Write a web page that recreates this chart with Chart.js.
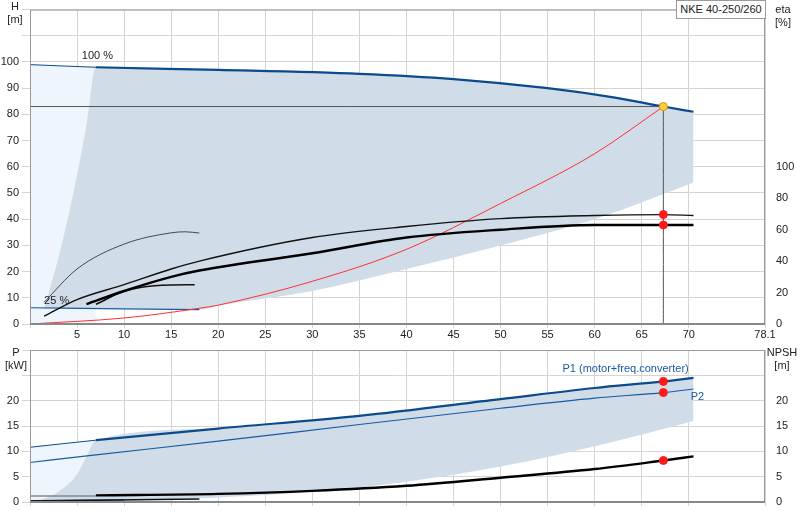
<!DOCTYPE html>
<html><head><meta charset="utf-8">
<script src="https://cdn.jsdelivr.net/npm/chart.js@4/dist/chart.umd.min.js"></script>
<style>
body{margin:0;background:#fff;font-family:"Liberation Sans",Arial,sans-serif;}
#w{position:relative;width:800px;height:520px;}
#c1{position:absolute;left:0;top:0;}
#c2{position:absolute;left:0;top:340px;}
.t{position:absolute;font-size:11px;color:#222;text-align:center;line-height:13px;}
</style></head><body>
<div id="w">
<canvas id="c1" width="800" height="340"></canvas>
<canvas id="c2" width="800" height="180"></canvas>
<div class="t" style="left:4px;top:0px;width:22px">H<br>[m]</div>
<div class="t" style="left:768px;top:3px;width:30px">eta<br>[%]</div>
<div class="t" style="left:4px;top:346px;width:24px">P<br>[kW]</div>
<div class="t" style="left:764px;top:346px;width:36px">NPSH<br>[m]</div>
<div class="t" style="left:676px;top:0px;width:88px;height:17px;line-height:17px;border:1px solid #999;background:#fff">NKE 40-250/260</div>
</div>
<script>
// ---- top chart data (Q in m3/h) ----
const qH100 = [0, 7, 20, 35, 45, 55, 62, 67.3, 70.5];
const hH100 = [99, 98, 97, 95.5, 93.5, 90, 86.5, 83, 81];
const qH25 = [0, 10, 18];
const hH25 = [6.2, 5.8, 5.5];
const qShadeTop = [1.5, 2, 3, 4, 5, 6, 7, 20, 35, 45, 55, 62, 67.3, 70.5];
const hShadeTop = [6, 12, 25, 40, 57, 76, 98, 97, 95.5, 93.5, 90, 86.5, 83, 81];
const qShadeBot = [1.5, 10, 18, 20, 30, 40, 50, 60, 70.5];
const hShadeBot = [6.1, 5.8, 5.5, 7, 12.6, 21, 30, 40, 54];
const qSys = [0, 10, 18, 20, 30, 40, 50, 60, 67.3];
const hSys = [0, 2.3, 6, 7.2, 16.3, 28.5, 46, 65, 83];
const qEtaA = [1.5, 5, 10, 15, 18, 30, 40, 50, 60, 67.3, 70.5];
const etaA = [5, 15.5, 25, 35, 40, 55, 62, 67, 69, 69.6, 69];
const qEtaB = [6, 10, 15, 18, 30, 40, 50, 60, 67.3, 70.5];
const etaB = [12.6, 21, 30, 34, 45, 55, 60, 63, 63, 63];
const qArc = [1.5, 5, 10, 15, 16.5, 18];
const hArc = [8.3, 21, 30.5, 34.8, 35.2, 34.7];
const qSmall = [7, 10, 14, 17.5];
const hSmall = [7.5, 12.5, 14.8, 15];
const dutyQ = 67.3, dutyH = 83, dutyEtaA = 69.6, dutyEtaB = 63;
// ---- bottom chart data ----
const qP1 = [0, 7, 20, 35, 50, 60, 67.3, 70.5];
const p1 = [10.8, 12.2, 14.5, 17, 20.3, 22.5, 23.8, 24.5];
const qP2 = [0, 7, 20, 35, 50, 60, 67.3, 70.5];
const p2 = [7.8, 9.3, 12, 15.3, 18.5, 20.5, 21.6, 22.3];
const qPShadeTop = [1, 3, 5, 6, 7, 20, 35, 50, 60, 67.3, 70.5];
const pShadeTop = [0.2, 2, 5.5, 9, 12.2, 14.5, 17, 20.3, 22.5, 23.8, 24.5];
const qPShadeBot = [1, 10, 20, 30, 40, 50, 60, 70.5];
const pShadeBot = [0.1, 0.3, 0.9, 2, 4, 7, 11, 16];
const qNpsh = [7, 20, 30, 40, 50, 60, 67.3, 70.5];
const npsh = [1.3, 1.6, 2.2, 3.2, 4.8, 6.5, 8.2, 9];
const qLow = [0, 18];
const pLow = [0.2, 0.6];
const dutyP1 = 23.8, dutyP2 = 21.6, dutyNpsh = 8.2;

const pts = (xs, ys) => xs.map((x, i) => ({x, y: ys[i]}));
const line = (data, o) => Object.assign({data, pointRadius: 0, borderWidth: 1, fill: false, tension: 0, cubicInterpolationMode: 'monotone'}, o);
const font = {family: '"Liberation Sans", Arial, sans-serif', size: 11};
const gridC = '#d4d4d4';

const frame = {id: 'frame', afterDraw(c) {
  const a = c.chartArea, x = c.ctx;
  x.save(); x.strokeStyle = '#999'; x.lineWidth = 1;
  x.strokeRect(a.left + 0.5, a.top + 0.5, a.right - a.left - 1, a.bottom - a.top);
  x.strokeStyle = '#888'; x.lineWidth = 2;
  x.beginPath(); x.moveTo(a.left, a.bottom); x.lineTo(a.right, a.bottom); x.stroke();
  x.restore();
  if (c.options.plugins.labels) c.options.plugins.labels.forEach(l => {
    const px = c.scales.x.getPixelForValue(l.x), py = c.scales[l.axis || 'y'].getPixelForValue(l.y);
    x.save(); x.font = '11px "Liberation Sans", Arial'; x.fillStyle = l.color || '#222';
    x.textAlign = l.align || 'left'; x.fillText(l.t, px, py); x.restore();
  });
}};
const fitW = w => s => { s.width = w; };
const fitH = h => s => { s.height = h; };

new Chart(document.getElementById('c1'), {
  type: 'line',
  data: {datasets: [
    line([{x: dutyQ, y: dutyH}], {pointRadius: 4, pointBackgroundColor: '#ffd23c', pointBorderColor: '#e08a00', order: 0}),
    line([{x: dutyQ, y: dutyEtaA}, {x: dutyQ, y: dutyEtaB}], {yAxisID: 'eta', showLine: false, pointRadius: 4, pointBackgroundColor: '#ff1a1a', pointBorderColor: '#ff1a1a', order: 0}),
    line(pts(qEtaA, etaA), {yAxisID: 'eta', borderColor: '#111', borderWidth: 1.4, order: 1}),
    line(pts(qEtaB, etaB), {yAxisID: 'eta', borderColor: '#000', borderWidth: 2.4, order: 1}),
    line(pts(qArc, hArc), {borderColor: '#222', borderWidth: 0.8, order: 1}),
    line(pts(qSmall, hSmall), {borderColor: '#111', borderWidth: 1.6, order: 1}),
    line(pts(qSys, hSys), {borderColor: '#ff3030', borderWidth: 1, order: 1}),
    line([{x: 0, y: dutyH}, {x: dutyQ, y: dutyH}], {borderColor: '#555', order: 2}),
    line([{x: dutyQ, y: 0}, {x: dutyQ, y: dutyH}], {borderColor: '#555', order: 2}),
    line(pts(qH100, hH100), {borderColor: '#0b4a8b', borderWidth: 2.2, order: 2,
      segment: {borderWidth: ctx => ctx.p0.parsed.x < 6.9 ? 1 : 2.2}}),
    line(pts(qH25, hH25), {borderColor: '#1a5aa0', borderWidth: 1.2, order: 2}),
    line(pts(qShadeTop, hShadeTop), {borderWidth: 0, borderColor: 'rgba(0,0,0,0)', fill: 12, backgroundColor: '#d0dce8', order: 5}),
    line(pts(qShadeBot, hShadeBot), {borderWidth: 0, borderColor: 'rgba(0,0,0,0)', order: 5}),
    line(pts(qH100.slice(0, 2), hH100.slice(0, 2)), {borderWidth: 0, borderColor: 'rgba(0,0,0,0)', fill: 'origin', backgroundColor: '#eef5fc', order: 6})
  ]},
  options: {
    animation: false, responsive: false, events: [],
    layout: {padding: {top: 0, left: 0, right: 0, bottom: 0}},
    plugins: {legend: {display: false}, tooltip: {enabled: false},
      labels: [{x: 5.5, y: 101, t: '100 %'}, {x: 1.5, y: 7.5, t: '25 %'}]},
    scales: {
      x: {type: 'linear', min: 0, max: 78.1, afterFit: fitH(16),
        grid: {color: gridC, drawTicks: true, tickLength: 4}, border: {display: false},
        ticks: {stepSize: 5, font, color: '#222', padding: 0, maxRotation: 0, autoSkip: false,
          callback: v => v === 0 ? '' : (v === 75 ? 'Q [m³/h]' : v)}},
      y: {min: 0, max: 120, afterFit: fitW(30), grid: {color: gridC}, border: {display: false},
        ticks: {stepSize: 10, font, color: '#222', callback: v => v > 100 ? '' : v}},
      eta: {position: 'right', min: 0, max: 200, afterFit: fitW(35), grid: {display: false}, border: {display: false},
        ticks: {stepSize: 20, font, color: '#222', callback: v => v > 100 ? '' : v}}
    }
  },
  plugins: [frame]
});

new Chart(document.getElementById('c2'), {
  type: 'line',
  data: {datasets: [
    line([{x: dutyQ, y: dutyP1}, {x: dutyQ, y: dutyP2}, {x: dutyQ, y: dutyNpsh}], {showLine: false, pointRadius: 4, pointBackgroundColor: '#ff1a1a', pointBorderColor: '#ff1a1a', order: 0}),
    line(pts(qP1, p1), {borderColor: '#0b4a8b', borderWidth: 2.2, order: 1,
      segment: {borderWidth: ctx => ctx.p0.parsed.x < 6.9 ? 1 : 2.2}}),
    line(pts(qP2, p2), {borderColor: '#1a5aa0', borderWidth: 1.2, order: 1}),
    line(pts(qNpsh, npsh), {yAxisID: 'n', borderColor: '#000', borderWidth: 2.4, order: 1}),
    line([{x: 0, y: 1.2}, {x: 7, y: 1.2}], {borderColor: '#888', borderWidth: 1.5, order: 1}),
    line(pts(qLow, pLow), {borderColor: '#111', borderWidth: 1.6, order: 1}),
    line([{x: 0, y: 0.3}, {x: 10, y: 0.4}], {borderColor: '#1a5aa0', borderWidth: 1.2, order: 1}),
    line(pts(qPShadeTop, pShadeTop), {borderWidth: 0, borderColor: 'rgba(0,0,0,0)', fill: 8, backgroundColor: '#d0dce8', order: 5}),
    line(pts(qPShadeBot, pShadeBot), {borderWidth: 0, borderColor: 'rgba(0,0,0,0)', order: 5}),
    line(pts(qP1.slice(0, 2), p1.slice(0, 2)), {borderWidth: 0, borderColor: 'rgba(0,0,0,0)', fill: 'origin', backgroundColor: '#eef5fc', order: 6})
  ]},
  options: {
    animation: false, responsive: false, events: [],
    layout: {padding: {top: 10, left: 0, right: 0, bottom: 0}},
    plugins: {legend: {display: false}, tooltip: {enabled: false},
      labels: [{x: 70, y: 25.6, t: 'P1 (motor+freq.converter)', color: '#1a5aa0', align: 'right'},
               {x: 70.2, y: 20.2, t: 'P2', color: '#1a5aa0'}]},
    scales: {
      x: {type: 'linear', min: 0, max: 78.1, afterFit: fitH(18),
        grid: {color: gridC, tickLength: 4}, border: {display: false},
        ticks: {stepSize: 5, display: true, color: 'rgba(0,0,0,0)', font}},
      y: {min: 0, max: 30, afterFit: fitW(30), grid: {color: gridC}, border: {display: false},
        ticks: {stepSize: 5, font, color: '#222', callback: v => v > 20 ? '' : v}},
      n: {position: 'right', min: 0, max: 30, afterFit: fitW(35), grid: {display: false}, border: {display: false},
        ticks: {stepSize: 5, font, color: '#222', callback: v => v > 20 ? '' : v}}
    }
  },
  plugins: [frame]
});
</script>
</body></html>
